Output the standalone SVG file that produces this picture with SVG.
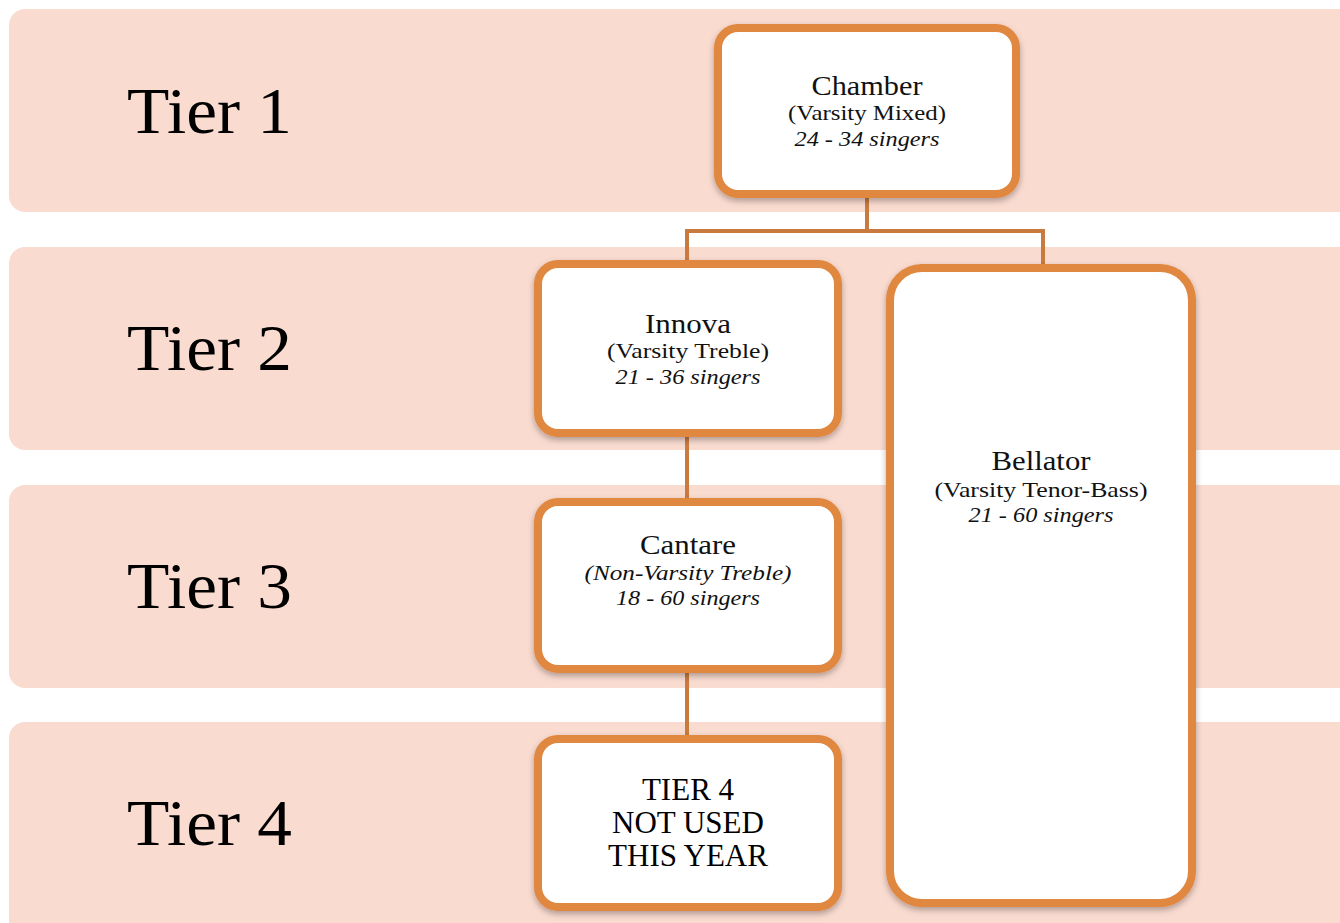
<svg xmlns="http://www.w3.org/2000/svg" width="1340" height="923" viewBox="0 0 1340 923">
<defs>
<style>
.band{fill:#FADBD0}
.tier{font-family:"Liberation Serif","DejaVu Serif",serif;font-size:66px;fill:#000}
.box{fill:#fff;stroke:#E0873F;stroke-width:8}
.t1{font-family:"Liberation Serif","DejaVu Serif",serif;font-size:27px;fill:#111;text-anchor:middle}
.t2{font-family:"Liberation Serif","DejaVu Serif",serif;font-size:22px;fill:#111;text-anchor:middle}
.ti{font-family:"Liberation Serif","DejaVu Serif",serif;font-size:22px;font-style:italic;fill:#111;text-anchor:middle}
.t4{font-family:"Liberation Serif","DejaVu Serif",serif;font-size:31px;fill:#000;text-anchor:middle}
.conn{fill:none;stroke:#C97A3E;stroke-width:4}
</style>
<filter id="sh" x="-10%" y="-10%" width="120%" height="120%">
<feDropShadow dx="0" dy="3" stdDeviation="3" flood-color="#000" flood-opacity="0.3"/>
</filter>
</defs>
<rect width="1340" height="923" fill="#fff"/>
<g id="bands">
<rect class="band" x="9" y="9" width="1345" height="203" rx="16"/>
<rect class="band" x="9" y="247" width="1345" height="203" rx="16"/>
<rect class="band" x="9" y="485" width="1345" height="203" rx="16"/>
<rect class="band" x="9" y="722" width="1345" height="215" rx="16"/>
<text class="tier" x="127" y="133" textLength="165" lengthAdjust="spacingAndGlyphs">Tier 1</text>
<text class="tier" x="127" y="370" textLength="165" lengthAdjust="spacingAndGlyphs">Tier 2</text>
<text class="tier" x="127" y="608" textLength="165" lengthAdjust="spacingAndGlyphs">Tier 3</text>
<text class="tier" x="127" y="845" textLength="165" lengthAdjust="spacingAndGlyphs">Tier 4</text>
</g>
<g id="connectors">
<polyline class="conn" points="867,198 867,231 687,231 687,262"/>
<polyline class="conn" points="867,231 1043,231 1043,266"/>
<line class="conn" x1="687" y1="435" x2="687" y2="500"/>
<line class="conn" x1="687" y1="671" x2="687" y2="737"/>
</g>
<g id="chamber">
<rect class="box" filter="url(#sh)" x="718" y="28" width="298" height="166" rx="20"/>
<text class="t1" x="867" y="95" textLength="111" lengthAdjust="spacingAndGlyphs">Chamber</text>
<text class="t2" x="867" y="120" textLength="158" lengthAdjust="spacingAndGlyphs">(Varsity Mixed)</text>
<text class="ti" x="867" y="146" textLength="145" lengthAdjust="spacingAndGlyphs">24 - 34 singers</text>
</g>
<g id="innova">
<rect class="box" filter="url(#sh)" x="538" y="264" width="300" height="169" rx="20"/>
<text class="t1" x="688" y="333" textLength="86" lengthAdjust="spacingAndGlyphs">Innova</text>
<text class="t2" x="688" y="358" textLength="162" lengthAdjust="spacingAndGlyphs">(Varsity Treble)</text>
<text class="ti" x="688" y="384" textLength="145" lengthAdjust="spacingAndGlyphs">21 - 36 singers</text>
</g>
<g id="cantare">
<rect class="box" filter="url(#sh)" x="538" y="502" width="300" height="167" rx="20"/>
<text class="t1" x="688" y="554" textLength="96" lengthAdjust="spacingAndGlyphs">Cantare</text>
<text class="ti" x="688" y="580" textLength="207" lengthAdjust="spacingAndGlyphs">(Non-Varsity Treble)</text>
<text class="ti" x="688" y="605" textLength="144" lengthAdjust="spacingAndGlyphs">18 - 60 singers</text>
</g>
<g id="tier4">
<rect class="box" filter="url(#sh)" x="538" y="739" width="300" height="168" rx="20"/>
<text class="t4" x="688" y="800">TIER 4</text>
<text class="t4" x="688" y="833">NOT USED</text>
<text class="t4" x="688" y="866">THIS YEAR</text>
</g>
<g id="bellator">
<rect class="box" filter="url(#sh)" x="890" y="268" width="302" height="635" rx="32"/>
<text class="t1" x="1041" y="470" textLength="99" lengthAdjust="spacingAndGlyphs">Bellator</text>
<text class="t2" x="1041" y="497" textLength="213" lengthAdjust="spacingAndGlyphs">(Varsity Tenor-Bass)</text>
<text class="ti" x="1041" y="522" textLength="145" lengthAdjust="spacingAndGlyphs">21 - 60 singers</text>
</g>
</svg>
